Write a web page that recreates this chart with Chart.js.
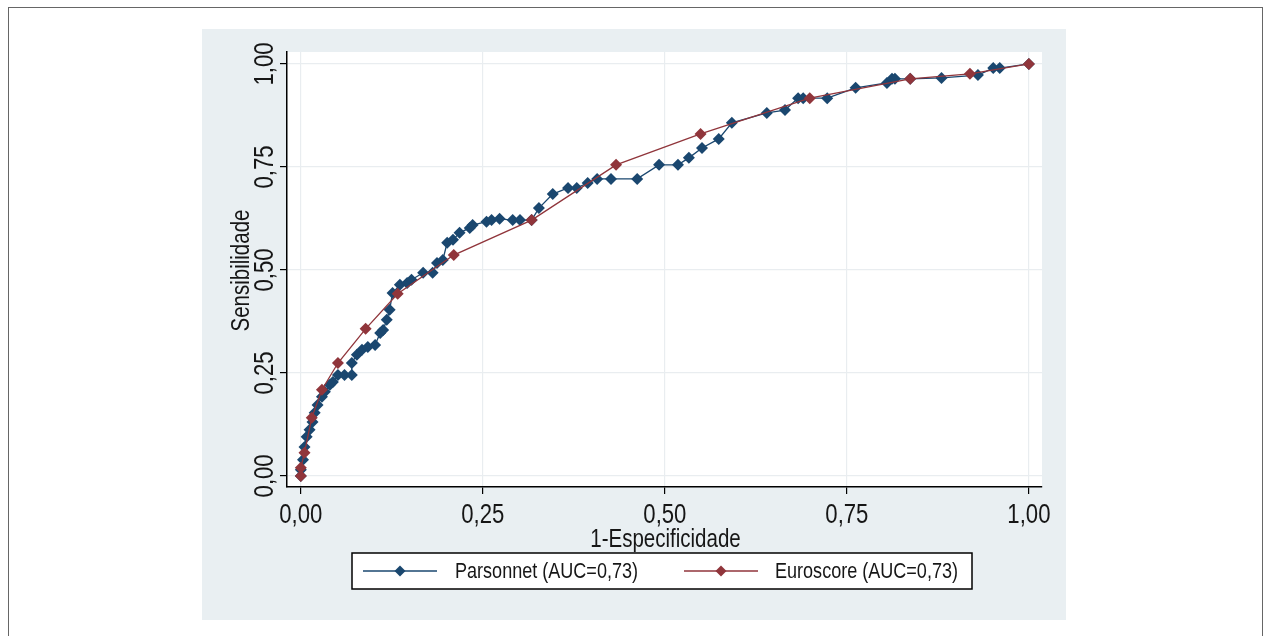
<!DOCTYPE html>
<html>
<head>
<meta charset="utf-8">
<script src="https://cdn.jsdelivr.net/npm/chart.js@4.4.1/dist/chart.umd.min.js"></script>
<style>
  html, body { margin: 0; padding: 0; background: #fff; }
  #wrap { width: 1264px; height: 636px; position: relative; }
</style>
</head>
<body>
<div id="wrap"><canvas id="roc" width="1264" height="636"></canvas></div>
<script>
// Curva ROC - Parsonnet x Euroscore
var tickValues = [0, 0.25, 0.5, 0.75, 1];
var seriesNames = ['Parsonnet (AUC=0,73)', 'Euroscore (AUC=0,73)'];
var xTitle = '1-Especificidade';
var yTitle = 'Sensibilidade';

var parsonnetX = [0, 0.000, 0.003, 0.005, 0.008, 0.012, 0.016, 0.019, 0.023, 0.029, 0.033, 0.040, 0.044,
    0.051, 0.060, 0.070, 0.070, 0.077, 0.084, 0.092, 0.102, 0.109, 0.113, 0.118, 0.122, 0.126, 0.136,
    0.146, 0.152, 0.168, 0.181, 0.187, 0.195, 0.201, 0.209, 0.218, 0.232, 0.236, 0.255, 0.262, 0.273,
    0.291, 0.301, 0.317, 0.327, 0.346, 0.367, 0.379, 0.394, 0.407, 0.426, 0.462, 0.492, 0.518, 0.533,
    0.551, 0.574, 0.592, 0.640, 0.665, 0.683, 0.690, 0.723, 0.762, 0.805, 0.812, 0.816, 0.837, 0.880,
    0.930, 0.951, 0.960, 1];
var parsonnetY = [0, 0.015, 0.039, 0.070, 0.095, 0.112, 0.131, 0.153, 0.172, 0.192, 0.204, 0.221, 0.228,
    0.245, 0.245, 0.245, 0.274, 0.294, 0.306, 0.313, 0.318, 0.347, 0.354, 0.379, 0.403, 0.444, 0.464,
    0.468, 0.476, 0.493, 0.493, 0.517, 0.524, 0.566, 0.573, 0.590, 0.602, 0.609, 0.617, 0.621, 0.624,
    0.621, 0.621, 0.621, 0.650, 0.684, 0.699, 0.699, 0.711, 0.721, 0.721, 0.721, 0.755, 0.755, 0.772,
    0.796, 0.818, 0.857, 0.881, 0.888, 0.917, 0.917, 0.917, 0.942, 0.954, 0.964, 0.964, 0.964, 0.966,
    0.973, 0.990, 0.990, 1];

var euroscoreX = [0, 0, 0.005, 0.015, 0.029, 0.051, 0.089, 0.133, 0.210, 0.317, 0.433, 0.549, 0.699,
    0.837, 0.919, 1];
var euroscoreY = [0, 0.020, 0.056, 0.141, 0.209, 0.274, 0.357, 0.442, 0.536, 0.621, 0.755, 0.830, 0.917,
    0.964, 0.976, 1];

var colBlue = '#1a476f';
var colRed = '#90353b';
var colText = '#161616';
var fontFam = '"Liberation Sans", Arial, sans-serif';
var narrow = 0.82; // imitar Arial Narrow

function toPoints(xs, ys) {
    return xs.map(function (x, i) { return { x: x, y: ys[i] }; });
}
function fmt(v) { return v.toFixed(2).replace('.', ','); }

// texto comprimido na horizontal (fillText com maxWidth)
function narrowText(ctx, txt, x, y, size, align, baseline, rot) {
    ctx.save();
    ctx.font = size + 'px ' + fontFam;
    ctx.fillStyle = colText;
    ctx.textAlign = align;
    ctx.textBaseline = baseline;
    ctx.translate(x, y);
    if (rot) ctx.rotate(rot);
    var w = ctx.measureText(txt).width * narrow;
    ctx.fillText(txt, 0, 0, w);
    ctx.restore();
}

var stataFrame = {
    id: 'stataFrame',
    beforeDraw: function (chart) {
        var ctx = chart.ctx, a = chart.chartArea;
        ctx.save();
        ctx.fillStyle = '#fff';
        ctx.fillRect(0, 0, chart.width, chart.height);
        ctx.strokeStyle = '#666';
        ctx.lineWidth = 1;
        ctx.strokeRect(8.5, 7.5, 1254, 640);
        ctx.fillStyle = '#e9eff2';
        ctx.fillRect(202, 29, 864, 591);
        ctx.fillStyle = '#fff';
        ctx.fillRect(a.left, a.top, a.right - a.left, a.bottom - a.top);
        ctx.restore();
    },
    afterDraw: function (chart) {
        var ctx = chart.ctx, a = chart.chartArea;
        var xs = chart.scales.x, ys = chart.scales.y;

        // rótulos dos eixos
        tickValues.forEach(function (v) {
            narrowText(ctx, fmt(v), xs.getPixelForValue(v), 523, 27, 'center', 'alphabetic', 0);
            narrowText(ctx, fmt(v), 273, ys.getPixelForValue(v), 27, 'center', 'alphabetic', -Math.PI / 2);
        });
        narrowText(ctx, xTitle, (a.left + a.right) / 2 + 1, 547, 25, 'center', 'alphabetic', 0);
        narrowText(ctx, yTitle, 249, (a.top + a.bottom) / 2 + 1, 25, 'center', 'alphabetic', -Math.PI / 2);

        // legenda
        ctx.save();
        ctx.fillStyle = '#fff';
        ctx.fillRect(352, 553, 620, 36);
        ctx.strokeStyle = '#000';
        ctx.lineWidth = 1.5;
        ctx.strokeRect(352, 553, 620, 36);
        var items = [
            { x0: 363, x1: 437, tx: 455, col: colBlue, label: seriesNames[0] },
            { x0: 684, x1: 758, tx: 775, col: colRed, label: seriesNames[1] }
        ];
        var ly = 571;
        items.forEach(function (it) {
            ctx.strokeStyle = it.col;
            ctx.lineWidth = 1.4;
            ctx.beginPath();
            ctx.moveTo(it.x0, ly);
            ctx.lineTo(it.x1, ly);
            ctx.stroke();
            var cx = (it.x0 + it.x1) / 2, r = 5.5;
            ctx.fillStyle = it.col;
            ctx.beginPath();
            ctx.moveTo(cx, ly - r);
            ctx.lineTo(cx + r, ly);
            ctx.lineTo(cx, ly + r);
            ctx.lineTo(cx - r, ly);
            ctx.closePath();
            ctx.fill();
            narrowText(ctx, it.label, it.tx, ly + 1, 22, 'left', 'middle', 0);
        });
        ctx.restore();
    }
};

new Chart(document.getElementById('roc'), {
    type: 'scatter',
    data: {
        datasets: [{
            label: seriesNames[0],
            data: toPoints(parsonnetX, parsonnetY),
            showLine: true,
            borderColor: colBlue,
            backgroundColor: colBlue,
            borderWidth: 1.3,
            pointStyle: 'rectRot',
            pointRadius: 6,
            pointBorderWidth: 0,
            order: 1
        }, {
            label: seriesNames[1],
            data: toPoints(euroscoreX, euroscoreY),
            showLine: true,
            borderColor: colRed,
            backgroundColor: colRed,
            borderWidth: 1.3,
            pointStyle: 'rectRot',
            pointRadius: 6,
            pointBorderWidth: 0,
            order: 0
        }]
    },
    options: {
        responsive: false,
        animation: false,
        devicePixelRatio: 1,
        layout: { padding: { left: 202, right: 222, top: 52, bottom: 79 } },
        plugins: { legend: { display: false }, tooltip: { enabled: false } },
        scales: {
            x: {
                type: 'linear',
                min: -0.019,
                max: 1.018,
                afterBuildTicks: function (s) { s.ticks = tickValues.map(function (v) { return { value: v }; }); },
                afterFit: function (s) { s.height = 70; },
                ticks: { display: false },
                grid: { color: '#e9edf0', lineWidth: 1.2, tickColor: '#000', tickLength: 7 },
                border: { color: '#000', width: 1.5 }
            },
            y: {
                type: 'linear',
                min: -0.027,
                max: 1.029,
                afterBuildTicks: function (s) { s.ticks = tickValues.map(function (v) { return { value: v }; }); },
                afterFit: function (s) { s.width = 85; },
                ticks: { display: false },
                grid: { color: '#e9edf0', lineWidth: 1.2, tickColor: '#000', tickLength: 7 },
                border: { color: '#000', width: 1.5 }
            }
        }
    },
    plugins: [stataFrame]
});
</script>
</body>
</html>
